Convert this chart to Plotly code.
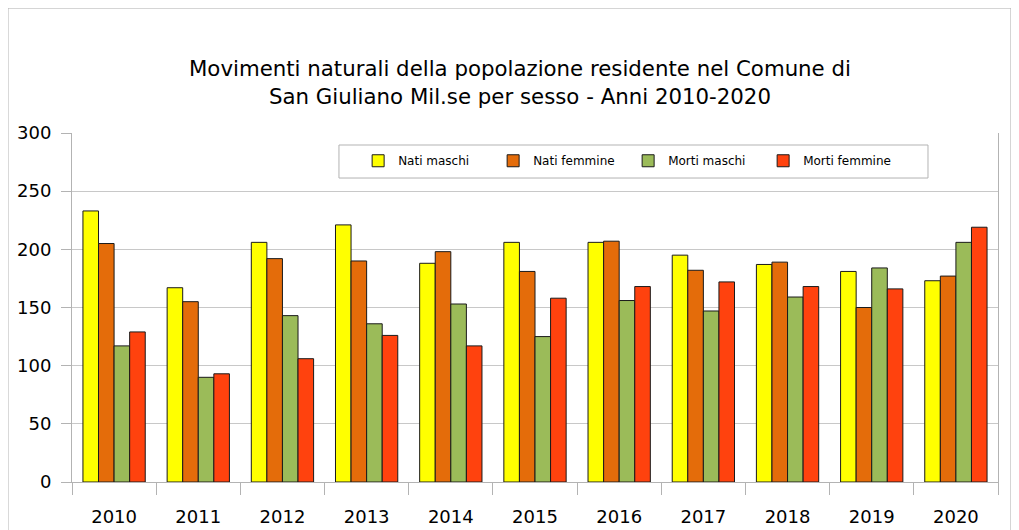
import plotly.graph_objects as go

years = ["2010", "2011", "2012", "2013", "2014", "2015", "2016", "2017", "2018", "2019", "2020"]
nati_maschi = [233, 167, 206, 221, 188, 206, 206, 195, 187, 181, 173]
nati_femmine = [205, 155, 192, 190, 198, 181, 207, 182, 189, 150, 177]
morti_maschi = [117, 90, 143, 136, 153, 125, 156, 147, 159, 184, 206]
morti_femmine = [129, 93, 106, 126, 117, 158, 168, 172, 168, 166, 219]

series = [
    ("Nati maschi", nati_maschi, "#ffff00"),
    ("Nati femmine", nati_femmine, "#e46c0a"),
    ("Morti maschi", morti_maschi, "#9bbb59"),
    ("Morti femmine", morti_femmine, "#ff420e"),
]

FONT = "DejaVu Sans"

fig = go.Figure()
for name, vals, color in series:
    fig.add_trace(go.Bar(
        x=years, y=vals, name=name,
        marker=dict(color=color, line=dict(color="#1a1a1a", width=1)),
    ))

# the page body adds an 8px offset, so margins are trimmed on top/left
fig.update_layout(
    width=1019, height=530,
    margin=dict(l=64, r=29, t=125, b=56),
    paper_bgcolor="white", plot_bgcolor="white",
    font=dict(family=FONT, color="black"),
    barmode="group", bargap=0.26, bargroupgap=0,
    showlegend=True,
    legend=dict(
        orientation="h", x=0.309, y=0.962, xanchor="left", yanchor="top",
        borderwidth=0, bgcolor="rgba(0,0,0,0)",
        font=dict(family=FONT, size=12), entrywidth=90, entrywidthmode="pixels",
        traceorder="normal", itemwidth=30,
    ),
    xaxis=dict(
        type="category", tickson="boundaries", ticks="outside", ticklen=12,
        tickcolor="#b3b3b3", showline=True, linecolor="#b3b3b3",
        tickfont=dict(size=18), ticklabelstandoff=18, showgrid=False,
        automargin=False,
    ),
    yaxis=dict(
        range=[0, 300], dtick=50, ticks="outside", ticklen=10, tickcolor="#b3b3b3",
        showline=True, linecolor="#b3b3b3", mirror=True,
        showgrid=True, gridcolor="#c8c8c8", zeroline=False,
        tickfont=dict(size=18), ticklabelstandoff=6, automargin=False,
    ),
    annotations=[dict(
        text="Movimenti naturali della popolazione residente nel Comune di<br>San Giuliano Mil.se per sesso - Anni 2010-2020",
        xref="paper", yref="paper", x=0.484, y=1.225, xanchor="center", yanchor="top",
        showarrow=False, font=dict(family=FONT, size=21.3), align="center",
    )],
    shapes=[
        dict(
            type="rect", xref="paper", yref="paper",
            x0=-0.0691, x1=1.014, y0=-0.3, y1=1.358,
            line=dict(color="#b3b3b3", width=1), layer="below",
        ),
        dict(
            type="rect", xref="paper", yref="paper",
            x0=0.2883, x1=0.9244, y0=0.871, y1=0.9656,
            line=dict(color="#b3b3b3", width=1), fillcolor="white", layer="above",
        ),
    ],
)

fig.write_html("out.html")
